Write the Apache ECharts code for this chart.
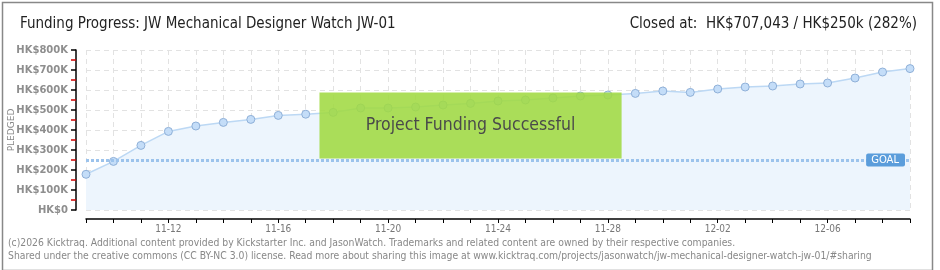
<!DOCTYPE html>
<html><head><meta charset="utf-8">
<script src="https://cdn.jsdelivr.net/npm/echarts@6/dist/echarts.min.js"></script>
<style>html,body{margin:0;padding:0;background:#fff}#c{width:940px;height:270px}</style>
</head><body><div id="c"></div>
<script>
const dates = ['11-09','11-10','11-11','11-12','11-13','11-14','11-15','11-16','11-17','11-18','11-19','11-20','11-21','11-22','11-23','11-24','11-25','11-26','11-27','11-28','11-29','11-30','12-01','12-02','12-03','12-04','12-05','12-06','12-07','12-08','12-09'];
const pledged = [178500,243000,323000,393000,420000,438000,453000,473000,479000,488000,510000,510000,515000,525000,533000,545000,550000,560000,570000,575000,583000,595000,588000,605000,615000,620000,630000,635000,660000,690000,707043];
const goal = 250000;
const yTicks = [0,100000,200000,300000,400000,500000,600000,700000,800000];
const yTickLabels = ['HK$0','HK$100K','HK$200K','HK$300K','HK$400K','HK$500K','HK$600K','HK$700K','HK$800K'];
const successBox = [8.5, 19.5, 258000, 588000];
const titleText = 'Funding Progress: JW Mechanical Designer Watch JW-01';
const closedText = 'Closed at:  HK$707,043 / HK$250k (282%)';
const footer1 = '(c)2026 Kicktraq. Additional content provided by Kickstarter Inc. and JasonWatch. Trademarks and related content are owned by their respective companies.';
const footer2 = 'Shared under the creative commons (CC BY-NC 3.0) license. Read more about sharing this image at www.kicktraq.com/projects/jasonwatch/jw-mechanical-designer-watch-jw-01/#sharing';

const chart = echarts.init(document.getElementById('c'));
const narrow = '"Liberation Sans Narrow", "DejaVu Sans Condensed", sans-serif';
chart.setOption({
  animation: false,
  backgroundColor: '#fff',
  title: [
    {text: titleText, left: 15, top: 12, textStyle: {fontFamily: narrow, fontSize: 15, fontWeight: 'normal', color: '#222'}},
    {text: closedText, right: 18, top: 12, textStyle: {fontFamily: narrow, fontSize: 15, fontWeight: 'normal', color: '#222'}}
  ],
  grid: {left: 86, right: 30, top: 50, bottom: 60, containLabel: false, outerBoundsMode: 'none'},
  xAxis: {
    type: 'value', min: 0, max: dates.length - 1, interval: 1, offset: 9,
    axisLine: {show: true, onZero: false, lineStyle: {color: '#000', width: 1.5}},
    axisTick: {show: true, length: 4, lineStyle: {color: '#000'}},
    axisLabel: {fontFamily: narrow, fontSize: 10, color: '#777', margin: 5,
      formatter: v => ((v - 3) % 4 === 0 ? dates[v] : '')},
    splitLine: {show: true, lineStyle: {color: '#e2e2e2', type: [5, 4]}}
  },
  yAxis: {
    type: 'value', position: 'left', min: 0, max: 800000, interval: 100000, offset: 10,
    name: 'PLEDGED', nameLocation: 'middle', nameRotate: 90, nameGap: 60, nameMoveOverlap: false,
    nameTextStyle: {fontFamily: 'DejaVu Sans', fontSize: 9, color: '#888'},
    axisLine: {show: true, onZero: false, lineStyle: {color: '#000', width: 1.5, opacity: 1}},
    axisTick: {show: true, length: 5, lineStyle: {color: '#000', width: 1.5}},
    minorTick: {show: true, splitNumber: 2, length: 5, lineStyle: {color: '#d00000', width: 1.5}},
    axisLabel: {fontFamily: 'DejaVu Sans', fontWeight: 'bold', fontSize: 10, color: '#8e8e8e', margin: 8,
      formatter: v => yTickLabels[yTicks.indexOf(v)]},
    splitLine: {show: true, lineStyle: {color: '#e2e2e2', type: [5, 4]}}
  },
  series: [{
    type: 'line',
    data: pledged.map((v, i) => [i, v]),
    symbol: 'circle', symbolSize: 8,
    itemStyle: {color: '#c4ddf8', borderColor: '#8fb0d8', borderWidth: 1},
    lineStyle: {color: '#bcd8f4', width: 1.5},
    areaStyle: {color: '#edf5fd', opacity: 1},
    z: 2,
    markLine: {
      silent: true, symbol: 'none',
      lineStyle: {color: '#9cc3ec', width: 3, type: [3, 2]},
      label: {show: true, position: 'insideEnd', formatter: 'GOAL', color: '#fff',
        backgroundColor: '#5b9ddb', padding: [2, 6, 1, 5], borderRadius: 2,
        fontFamily: 'DejaVu Sans', fontSize: 10, distance: 5},
      data: [{yAxis: goal}]
    }
  }, {
    type: 'line', data: [], z: 5, silent: true,
    markArea: {
      silent: true, z: 5,
      itemStyle: {color: 'rgba(160,218,66,0.88)'},
      label: {show: true, position: 'inside', formatter: 'Project Funding Successful',
        fontFamily: narrow, fontSize: 17.5, color: '#4a4a4a',
        textShadowColor: '#fff', textShadowOffsetX: 1, textShadowOffsetY: 1, textShadowBlur: 0},
      data: [[{xAxis: successBox[0], yAxis: successBox[2]}, {xAxis: successBox[1], yAxis: successBox[3]}]]
    }
  }],
  graphic: [
    {type: 'rect', left: 0, top: 0, shape: {x: 0.5, y: 0.5, width: 930, height: 268}, style: {fill: 'none', stroke: '#888', lineWidth: 1.5}, silent: true},
    {type: 'text', left: 8, top: 238, style: {text: footer1, font: '10.3px ' + narrow, fill: '#888'}},
    {type: 'text', left: 8, top: 251, style: {text: footer2, font: '10.3px ' + narrow, fill: '#888'}}
  ]
});
</script></body></html>
